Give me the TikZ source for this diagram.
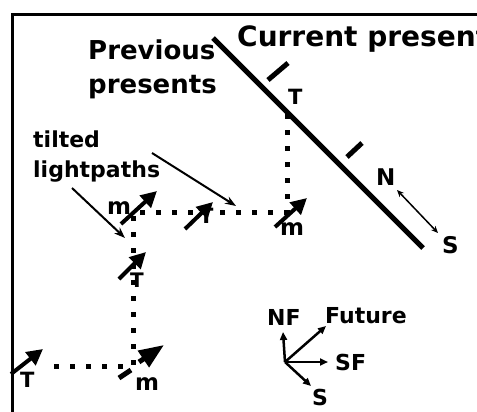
\documentclass[tikz,border=0pt]{standalone}
\usepackage{fontspec}
\setmainfont{DejaVu Sans}
\usetikzlibrary{arrows.meta}
\newcommand{\fsz}[1]{\fontsize{#1}{#1}\selectfont\bfseries}
\begin{document}
\begin{tikzpicture}[x=1pt,y=-1pt,
  lbl/.style={inner sep=0pt, anchor=base west, font=\fsz{21}},
  mlbl/.style={inner sep=0pt, anchor=base, font=\fsz{23}},
  lp/.style={line width=4pt, -{Triangle[length=16pt,width=16pt]}},
  dotline/.style={line width=5pt, dash pattern=on 5pt off 11pt},
  ptr/.style={line width=2pt, -{Stealth[length=11pt,width=8pt]}},
  cmp/.style={line width=2.5pt, -{Triangle[length=8pt,width=7pt]}},
  thick5/.style={line width=5pt},
  ]
\useasboundingbox (0,0) rectangle (477,412);
\clip (0,0) rectangle (477,412);
\fill[white] (0,0) rectangle (477,412);
% frame
\draw[line width=3pt] (12,430) -- (12,15) -- (495,15);

% texts
\node[lbl, font=\fsz{28}] (cur) at (237,47) {Current present};
\node[lbl, font=\fsz{26}] (prev1) at (88,60) {Previous};
\node[lbl, font=\fsz{26}] (prev2) at (88,93) {presents};
\node[lbl, font=\fsz{22}] (tl1) at (33,147) {tilted};
\node[lbl, font=\fsz{22}] (tl2) at (33,177) {lightpaths};

% main present line with ticks
\coordinate (L1) at (213,38);
\coordinate (L2) at (423,248);
\draw[thick5] (L1) -- (L2);
\coordinate (k1a) at (268,80); \coordinate (k1b) at (288,63);
\coordinate (k2a) at (347,157); \coordinate (k2b) at (362,143);
\draw[thick5] (k1a) -- (k1b);
\draw[thick5] (k2a) -- (k2b);
\node[lbl, font=\fsz{21}] (Ttop) at (288,105) {T};
\node[lbl, font=\fsz{23}] (N) at (376,185) {N};
\node[lbl, font=\fsz{23}] (S) at (442,253) {S};
\coordinate (ns1) at (397,190); \coordinate (ns2) at (438,233);
\draw[line width=1.5pt, {Stealth[length=7pt,width=6pt]}-{Stealth[length=7pt,width=6pt]}] (ns1) -- (ns2);

% dotted light paths
\coordinate (dT) at (287,114);
\coordinate (cR) at (287,212);
\coordinate (cL) at (133,212);
\coordinate (cB) at (133,366);
\coordinate (cBL) at (44,366);
\draw[dotline] (dT) -- (cR) -- (cL) -- (cB) -- (cBL);

% tilted arrows
\coordinate (a1s) at (121,224); \coordinate (a1e) at (157,191);
\draw[lp] (a1s) -- (a1e);
\node[mlbl] (m1) at (119,214) {m};
\coordinate (a2s) at (185,229); \coordinate (a2e) at (213,202);
\draw[lp] (a2s) -- (a2e);
\node[lbl, font=\fsz{21}] (T2) at (199,223) {T};
\coordinate (a3s) at (119,279); \coordinate (a3e) at (146,252);
\draw[lp] (a3s) -- (a3e);
\node[lbl, font=\fsz{20}] (T3) at (130,287) {T};
\coordinate (a4s) at (275,227); \coordinate (a4e) at (307,198);
\draw[lp] (a4s) -- (a4e);
\node[mlbl] (m4) at (292,235) {m};
\coordinate (a5s) at (119,378); \coordinate (a5m) at (131,370);
\draw[line width=5pt] (a5s) -- (a5m);
\coordinate (a5b) at (139,362); \coordinate (a5e) at (164,345);
\draw[line width=5pt, -{Triangle[length=25pt,width=19pt]}] (a5b) -- (a5e);
\node[mlbl] (m5) at (147,390) {m};
\coordinate (a6s) at (11,374); \coordinate (a6e) at (43,349);
\draw[lp] (a6s) -- (a6e);
\node[lbl, font=\fsz{21}] (T6) at (20,387) {T};

% pointers
\coordinate (p1s) at (72,188); \coordinate (p1e) at (125,238);
\draw[ptr] (p1s) -- (p1e);
\coordinate (p2s) at (152,153); \coordinate (p2e) at (236,206);
\draw[ptr] (p2s) -- (p2e);

% compass
\coordinate (o) at (285,362);
\node[lbl, font=\fsz{22}] (NF) at (267,325) {NF};
\node[lbl, font=\fsz{22}] (Fu) at (325,323) {Future};
\node[lbl, font=\fsz{22}] (SF) at (335,370) {SF};
\node[lbl, font=\fsz{22}] (S2) at (312,405) {S};
\coordinate (cNF) at (283,332);
\coordinate (cFu) at (326,326);
\coordinate (cSF) at (328,362);
\coordinate (cS) at (311,386);
\draw[cmp] (o) -- (cNF);
\draw[cmp] (o) -- (cFu);
\draw[cmp] (o) -- (cSF);
\draw[cmp] (o) -- (cS);
\end{tikzpicture}
\end{document}
